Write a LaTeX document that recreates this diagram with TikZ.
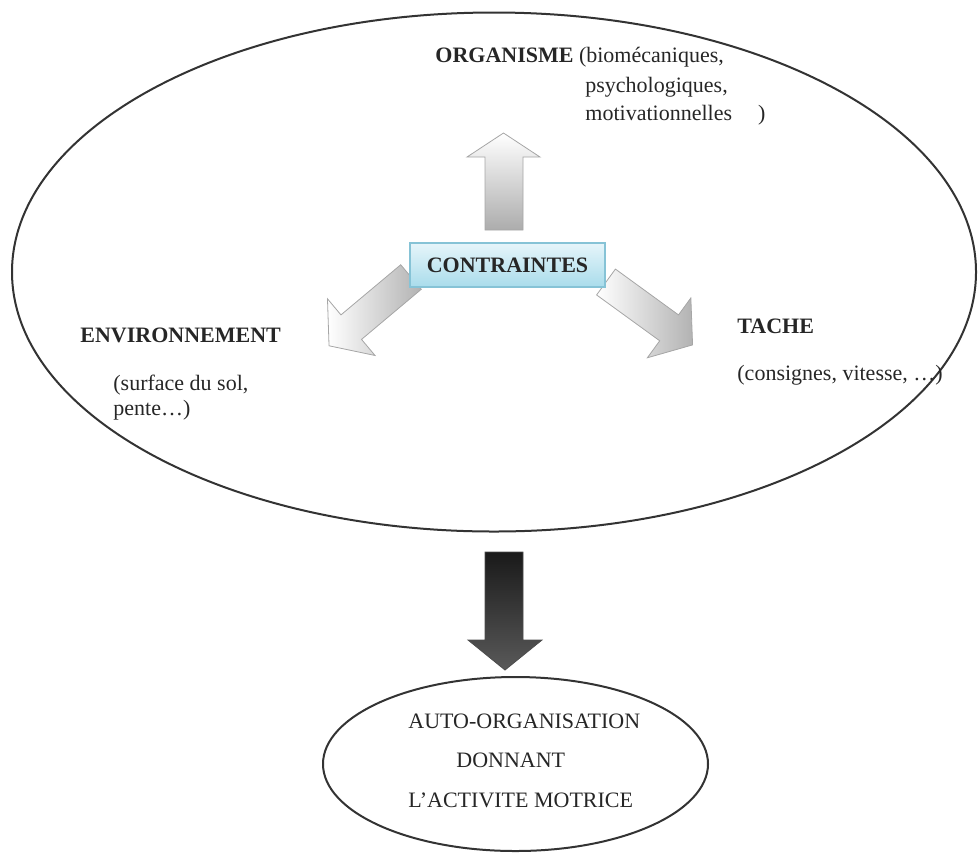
\documentclass[tikz,border=0pt]{standalone}
\usepackage{fontspec}
\setmainfont{Liberation Serif}
\usetikzlibrary{shapes.geometric}
\definecolor{boxfillA}{HTML}{E6F5FA}
\definecolor{boxfillB}{HTML}{A9DCEB}
\definecolor{boxline}{HTML}{86C3D6}
\tikzset{
  txt/.style={inner sep=0pt, anchor=base west, text=black!85, font=\fontsize{11}{13}\selectfont},
  oval/.style={draw=black!80, line width=1pt, ellipse, inner sep=0pt},
  arrowshape/.style={draw=gray!70, line width=0.4pt},
}
\begin{document}
\begin{tikzpicture}[x=0.5pt,y=-0.5pt]
\useasboundingbox (0,0) rectangle (978,852);

% big ellipse
\node[oval, minimum width=482pt, minimum height=259.5pt] (big) at (494,272) {};
% small ellipse
\node[oval, minimum width=192.5pt, minimum height=87pt] (small) at (515.5,764) {};

% up arrow
\shade[arrowshape, top color=white, bottom color=gray!65]
  (485,230) -- (485,157) -- (467,157) -- (503.5,133) -- (540,157) -- (523,157) -- (523,230) -- cycle;

% diagonal arrows
\shade[arrowshape, shift={(411,277)}, rotate=220, left color=white, right color=gray!60]
  (0,-16) -- (78,-16) -- (78,-37) -- (107,0) -- (78,37) -- (78,16) -- (0,16) -- cycle;
\shade[arrowshape, shift={(606,282)}, rotate=-36, left color=white, right color=gray!60]
  (0,-16) -- (78,-16) -- (78,-37) -- (107,0) -- (78,37) -- (78,16) -- (0,16) -- cycle;

% down arrow
\shade[draw=gray!60!black, line width=0.4pt, top color=black!90, middle color=gray!45, bottom color=black!65]
  (485,552) -- (523,552) -- (523,640) -- (542,640) -- (505,670) -- (468,640) -- (485,640) -- cycle;

% contraintes box
\node[draw=boxline, line width=0.6pt, top color=boxfillA, bottom color=boxfillB,
      minimum width=97.5pt, minimum height=22pt, inner sep=0pt,
      text=black!85, font=\fontsize{11}{13}\selectfont\bfseries] (contr) at (507.5,265) {CONTRAINTES};

% texts
\node[txt] (org) at (435,62) {\textbf{ORGANISME} (biomécaniques,};
\node[txt] (org2) at (585,92) {psychologiques,};
\node[txt] (org3) at (585,120) {motivationnelles\hspace{13pt})};

\node[txt] (env) at (80,342) {\textbf{ENVIRONNEMENT}};
\node[txt] (env2) at (113,390) {(surface du sol,};
\node[txt] (env3) at (113,415) {pente…)};

\node[txt] (tache) at (737,333) {\textbf{TACHE}};
\node[txt] (tache2) at (737,380) {(consignes, vitesse, …)};

\node[txt] (auto1) at (408,728) {AUTO-ORGANISATION};
\node[txt] (auto2) at (456,767) {DONNANT};
\node[txt] (auto3) at (408,807) {L’ACTIVITE MOTRICE};
\end{tikzpicture}
\end{document}
